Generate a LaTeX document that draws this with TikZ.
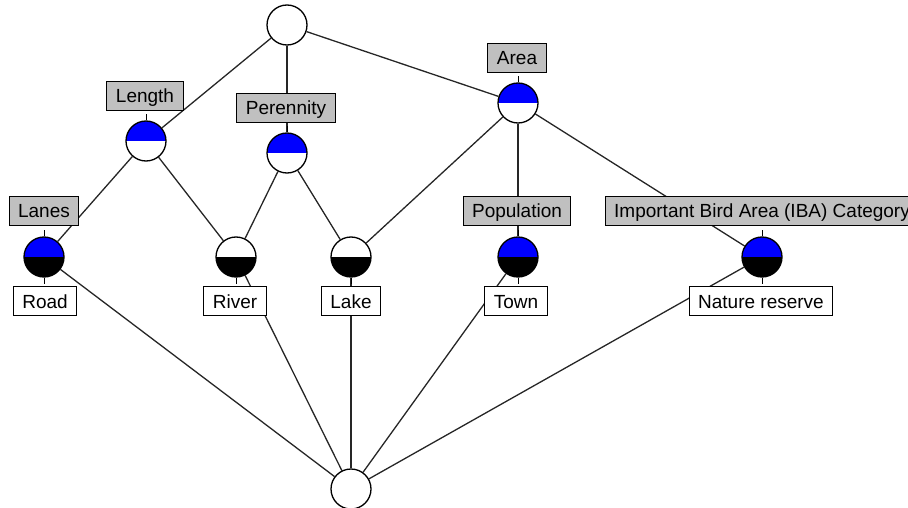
\documentclass[tikz,border=0pt]{standalone}
\usepackage{fontspec}
\setmainfont{Liberation Sans}
\usetikzlibrary{backgrounds}
\definecolor{lgray}{RGB}{192,192,192}
\begin{document}
\begin{tikzpicture}[x=1pt,y=-1pt,
 edge/.style={draw=black!85, line width=1.3pt},
 conc/.style={circle, draw=black, line width=1.3pt, minimum size=40pt, inner sep=0pt, fill=white},
 attrc/.style={conc, path picture={\fill[blue] (path picture bounding box.west) rectangle (path picture bounding box.north east);}},
 objc/.style={conc, path picture={\fill[black] (path picture bounding box.west) rectangle (path picture bounding box.south east);}},
 bothc/.style={conc, path picture={\fill[blue] (path picture bounding box.west) rectangle (path picture bounding box.north east);\fill[black] (path picture bounding box.west) rectangle (path picture bounding box.south east);}},
 lab/.style={draw=black, line width=0.9pt, font=\fontsize{19}{22}\selectfont, inner xsep=9pt, inner ysep=0pt, text height=21.5pt, text depth=7.5pt},
 alab/.style={lab, fill=lgray},
 olab/.style={lab, fill=white},
 stub/.style={draw=black, line width=1pt}]
\useasboundingbox (0,0) rectangle (908,508);
\clip (0,0) rectangle (908,508);
% concepts
\node[conc]  (top)   at (287,25)  {};
\node[attrc] (len)   at (146,141) {};
\node[attrc] (per)   at (287,153) {};
\node[attrc] (area)  at (518,103) {};
\node[bothc] (lanes) at (44,257)  {};
\node[objc]  (river) at (236,257) {};
\node[objc]  (lake)  at (351,257) {};
\node[bothc] (pop)   at (518,257) {};
\node[bothc] (iba)   at (762,257) {};
\node[conc]  (bot)   at (351,489) {};
% labels
\node[alab] (lLen)   at (145,96)  {Length};
\node[alab] (lPer)   at (286,108) {Perennity};
\node[alab] (lArea)  at (517,58)  {Area};
\node[alab] (lLanes) at (44,211)  {Lanes};
\node[alab] (lPop)   at (517,211) {Population};
\node[alab] (lIba)   at (762,211) {Important Bird Area (IBA) Category};
\node[olab] (lRoad)  at (45,301)  {Road};
\node[olab] (lRiver) at (235,301) {River};
\node[olab] (lLake)  at (351,301) {Lake};
\node[olab] (lTown)  at (516,301) {Town};
\node[olab] (lNat)   at (761,301) {Nature reserve};
\begin{scope}[on background layer]
\draw[edge] (top) -- (len);
\draw[edge] (top) -- (per);
\draw[edge] (top) -- (area);
\draw[edge] (len) -- (lanes);
\draw[edge] (len) -- (river);
\draw[edge] (per) -- (river);
\draw[edge] (per) -- (lake);
\draw[edge] (area) -- (lake);
\draw[edge] (area) -- (pop);
\draw[edge] (area) -- (iba);
\draw[edge] (lanes) -- (bot);
\draw[edge] (river) -- (bot);
\draw[edge] (lake) -- (bot);
\draw[edge] (pop) -- (bot);
\draw[edge] (iba) -- (bot);
% stubs
\draw[stub] (len.north) -- ++(0,-6);
\draw[stub] (per.north) -- ++(0,-6);
\draw[stub] (area.north) -- ++(0,-6);
\draw[stub] (lanes.north) -- ++(0,-6);
\draw[stub] (pop.north) -- ++(0,-6);
\draw[stub] (iba.north) -- ++(0,-6);
\draw[stub] (lanes.south) -- ++(0,6);
\draw[stub] (river.south) -- ++(0,6);
\draw[stub] (lake.south) -- ++(0,6);
\draw[stub] (pop.south) -- ++(0,6);
\draw[stub] (iba.south) -- ++(0,6);
\end{scope}
\end{tikzpicture}
\end{document}
